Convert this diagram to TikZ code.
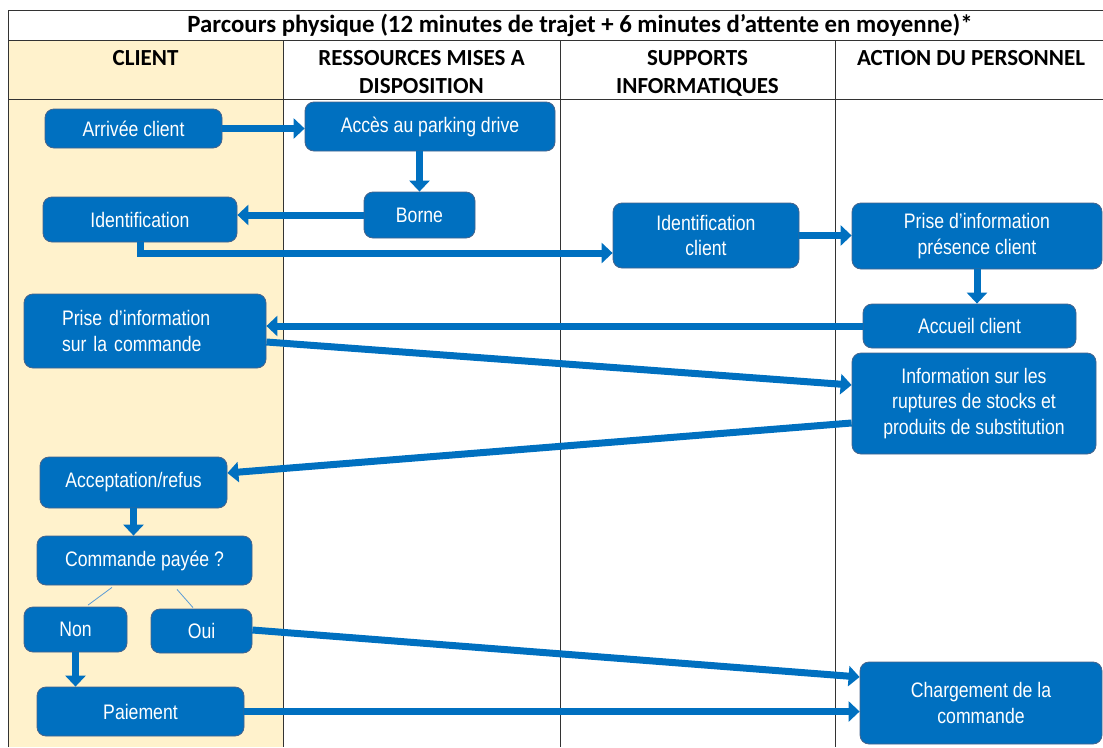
\documentclass[tikz,border=0pt]{standalone}
\usepackage{fontspec}
\setmainfont{Carlito}
\newfontfamily\boxfont[FakeStretch=0.84]{Liberation Sans}
\usetikzlibrary{arrows.meta,calc}
\definecolor{boxblue}{RGB}{0,112,192}
\definecolor{boxedge}{RGB}{70,100,140}
\definecolor{clientbg}{RGB}{255,242,204}
\definecolor{branchcol}{RGB}{91,155,213}
\begin{document}
\begin{tikzpicture}[x=1pt,y=-1pt,
 box/.style={draw=boxedge, line width=0.8pt, fill=boxblue, rounded corners=9pt, text=white,
   font=\boxfont\fontsize{21}{25.5}\selectfont, align=center, inner sep=0pt},
 flow/.style={draw=boxblue, line width=7pt, -{Triangle[length=11pt,width=20pt]}},
 branch/.style={draw=branchcol, line width=0.8pt},
 rule/.style={draw=black!80, line width=0.9pt},
 head/.style={font=\bfseries\fontsize{23}{28}\selectfont, align=center}
]
\useasboundingbox (0,0) rectangle (1103,747);
% table
\fill[clientbg] (8,40) rectangle (283,747);
\draw[rule] (8,747) -- (8,10) -- (1103,10);
\draw[rule] (8,40) -- (1103,40);
\draw[rule] (8,99) -- (1103,99);
\draw[rule] (283,40) -- (283,747);
\draw[rule] (560,40) -- (560,747);
\draw[rule] (835,40) -- (835,747);
\node[head, font=\bfseries\fontsize{24.8}{28}\selectfont, anchor=base] (title) at (580,32) {Parcours physique (12 minutes de trajet + 6 minutes d’attente en moyenne)*};
\node[head, anchor=base] (hclient) at (145.5,65) {CLIENT};
\node[head, anchor=base] (hres) at (421.5,93) {RESSOURCES MISES A\\DISPOSITION};
\node[head, anchor=base] (hsup) at (697.5,93) {SUPPORTS\\INFORMATIQUES};
\node[head, anchor=base] (hact) at (971,65) {ACTION DU PERSONNEL};
% boxes
\node[box, minimum width=177pt, minimum height=39pt] (arr) at (133.5,128.5) {Arrivée client};
\node[box, minimum width=250pt, minimum height=49pt] (acc) at (430,126.5) {Accès au parking drive};
\node[box, minimum width=111pt, minimum height=46pt] (borne) at (419.5,215) {Borne};
\node[box, minimum width=194pt, minimum height=45pt] (ident) at (140,219.5) {Identification};
\node[box, minimum width=186pt, minimum height=65pt] (idc) at (706,235.5) {Identification\\client};
\node[box, minimum width=250pt, minimum height=66pt] (pp) at (977,236) {Prise d’information\\présence client};
\node[box, minimum width=213pt, minimum height=44pt] (accueil) at (969.5,326) {Accueil client};
\node[box, minimum height=74pt, text width=166pt, inner xsep=38pt, align=left] (pcmd) at (145,331) {Prise d’information\\sur la commande};
\node[box, minimum width=244pt, minimum height=101pt] (info) at (974,403.5) {Information sur les\\ruptures de stocks et\\produits de substitution};
\node[box, minimum width=187pt, minimum height=51pt] (accp) at (133.5,482.5) {Acceptation/refus};
\node[box, minimum width=215pt, minimum height=49pt] (cmd) at (144.5,560.5) {Commande payée ?};
\node[box, minimum width=103pt, minimum height=45pt] (non) at (75.5,629.5) {Non};
\node[box, minimum width=101pt, minimum height=44pt] (oui) at (201.5,631) {Oui};
\node[box, minimum width=207pt, minimum height=49pt] (paie) at (140.5,711.5) {Paiement};
\node[box, minimum width=242pt, minimum height=82pt] (charg) at (981,703) {Chargement de la\\commande};
% connectors
\draw[flow] (arr.east) -- (arr.east -| acc.west);
\draw[flow] (borne.north |- acc.south) -- (borne.north);
\draw[flow] (borne.west) -- (borne.west -| ident.east);
\draw[flow] (ident.south) |- ($(idc.west)+(0,17.5)$);
\draw[flow] (idc.east) -- (idc.east -| pp.west);
\draw[flow] (pp.south) -- (pp.south |- accueil.north);
\draw[flow] (accueil.west) -- (accueil.west -| pcmd.east);
\draw[flow] ($(pcmd.east)+(0,11)$) -- ($(info.west)+(0,-18.5)$);
\draw[flow] ($(info.west)+(0,19.5)$) -- ($(accp.east)+(0,-9.5)$);
\draw[flow] (accp.south) -- (accp.south |- cmd.north);
\draw[flow] (non.south) -- (non.south |- paie.north);
\draw[flow] ($(oui.east)+(0,-1)$) -- ($(charg.west)+(0,-26)$);
\draw[flow] (paie.east) -- (paie.east -| charg.west);
\draw[branch] ($(cmd.south)+(-32.5,2)$) -- ($(non.north)+(12.5,-1.5)$);
\draw[branch] ($(cmd.south)+(32.5,4)$) -- ($(oui.north)+(-8.5,-1)$);
\end{tikzpicture}
\end{document}
